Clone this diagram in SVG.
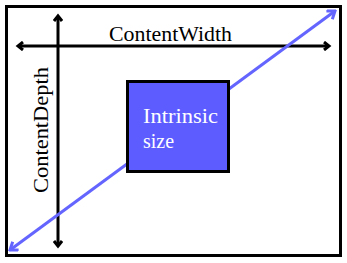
<svg xmlns="http://www.w3.org/2000/svg" width="347" height="263" viewBox="0 0 347 263">
<style>
.ln{stroke:#000;stroke-width:3;fill:none}
.bl{stroke:#6464ff;stroke-width:3;fill:none}
.t{font-family:"Liberation Serif",serif;font-size:21px}
</style>
<defs>
<marker id="ab" markerWidth="10" markerHeight="10" refX="7" refY="5" orient="auto-start-reverse" markerUnits="userSpaceOnUse">
<path d="M2,1 L7,5 L2,9" stroke="#000" stroke-width="3" fill="none"/>
</marker>
<marker id="ub" markerWidth="12" markerHeight="12" refX="10" refY="6" orient="auto-start-reverse" markerUnits="userSpaceOnUse">
<path d="M3,1 L10,6 L3,11" stroke="#6464ff" stroke-width="3" fill="none"/>
</marker>
</defs>
<rect x="6.5" y="6.5" width="334" height="249" fill="#fff" stroke="#000" stroke-width="3"/>
<g id="connectors">
<line class="ln" x1="18" y1="46" x2="329" y2="46" marker-start="url(#ab)" marker-end="url(#ab)"/>
<line class="ln" x1="58" y1="16" x2="58" y2="246" marker-start="url(#ab)" marker-end="url(#ab)"/>
<line class="bl" x1="10" y1="250" x2="335" y2="11" marker-start="url(#ub)" marker-end="url(#ub)"/>
</g>
<g id="box">
<rect x="127.5" y="81.5" width="101" height="90" fill="#5c5cff" stroke="#000" stroke-width="3"/>
<text class="t" x="143" y="123" fill="#fff" font-size="20" textLength="75" lengthAdjust="spacingAndGlyphs">Intrinsic</text>
<text class="t" x="143" y="148" fill="#fff" font-size="20" textLength="31" lengthAdjust="spacingAndGlyphs">size</text>
</g>
<text class="t" x="109" y="41" textLength="123" lengthAdjust="spacingAndGlyphs">ContentWidth</text>
<text class="t" transform="translate(48,193) rotate(-90)" textLength="126" lengthAdjust="spacingAndGlyphs">ContentDepth</text>
</svg>
